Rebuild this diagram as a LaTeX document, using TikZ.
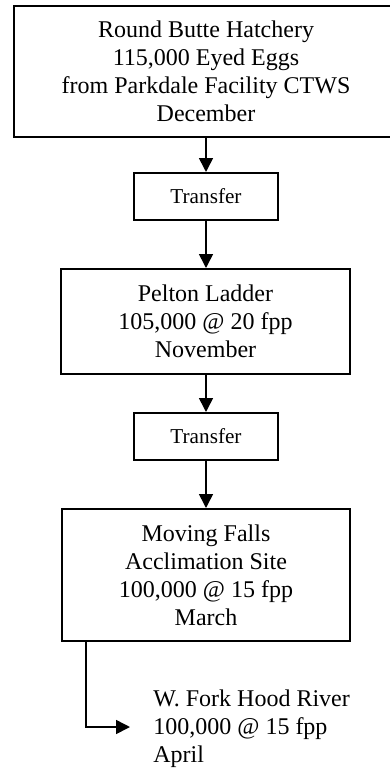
\documentclass[tikz,border=0pt]{standalone}
\usepackage{fontspec}
\setmainfont{Liberation Serif}
\usetikzlibrary{arrows.meta}

\begin{document}
\begin{tikzpicture}[x=0.5pt, y=-0.5pt,
  every node/.style={font=\fontsize{12}{14}\selectfont},
  stage/.style={draw, line width=1pt, align=center, inner sep=0pt},
  hop/.style={draw, line width=1pt, inner sep=0pt, minimum width=72pt,
    minimum height=23.5pt, font=\fontsize{10.6}{12}\selectfont},
  flow/.style={-{Triangle[length=7pt, width=7pt]}, line width=0.8pt}]
  \useasboundingbox (0,0) rectangle (390,771);
  % top box runs off the right edge of the page
  \node[stage, minimum width=192pt, minimum height=65.5pt] (hatch) at (206,71.5)
    {Round Butte Hatchery\\115,000 Eyed Eggs\\from Parkdale Facility CTWS\\December};
  \node[hop] (xfer1) at (206,196.5) {Transfer};
  \node[stage, minimum width=144.5pt, minimum height=52.5pt] (pelton) at (205.5,321.5)
    {Pelton Ladder\\105,000 @ 20 fpp\\November};
  \node[hop] (xfer2) at (206,436.5) {Transfer};
  \node[stage, minimum width=144pt, minimum height=66pt] (moving) at (206,575)
    {Moving Falls\\Acclimation Site\\100,000 @ 15 fpp\\March};
  \node[align=left, anchor=west, inner sep=0pt] (river) at (153,729)
    {W. Fork Hood River\\100,000 @ 15 fpp\\April};
  \coordinate (drop) at (86,641);
  \draw[flow] (hatch.south -| xfer1) -- (xfer1);
  \draw[flow] (xfer1) -- (pelton.north -| xfer1);
  \draw[flow] (pelton.south -| xfer2) -- (xfer2);
  \draw[flow] (xfer2) -- (moving.north -| xfer2);
  \draw[flow] (drop) |- ([xshift=-11.5pt,yshift=1pt]river.west);
\end{tikzpicture}
\end{document}
